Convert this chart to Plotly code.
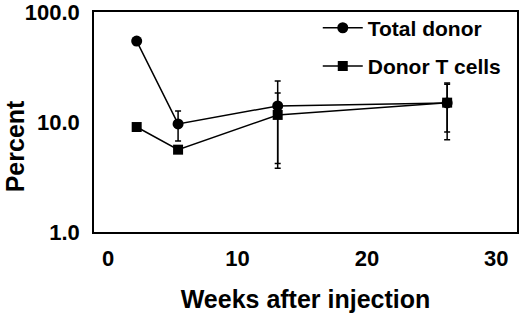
import plotly.graph_objects as go

weeks = [2.2, 5.4, 13.1, 26.2]
total_donor = [54.5, 9.6, 14.0, 14.9]
total_err_plus = [4.0, 3.0, 9.6, 7.7]
total_err_minus = [4.0, 2.9, 10.2, 6.8]
tcell = [9.0, 5.6, 11.6, 15.0]
tcell_err_plus = [0.0, 0.0, 6.8, 7.0]
tcell_err_minus = [0.0, 0.0, 7.4, 8.1]

y_ticks = [1, 10, 100]
y_ticktext = ["1.0", "10.0", "100.0"]
x_ticks = [0, 10, 20, 30]

font = "Liberation Sans, Arial, sans-serif"

fig = go.Figure()
fig.add_trace(go.Scatter(
    x=weeks, y=total_donor, name="Total donor", mode="lines+markers",
    legendgroup="a",
    line=dict(color="black", width=1.5),
    marker=dict(symbol="circle", size=11, color="black"),
    error_y=dict(type="data", array=total_err_plus, arrayminus=total_err_minus,
                 symmetric=False, color="black", thickness=1.5, width=3),
))
fig.add_trace(go.Scatter(
    x=weeks, y=tcell, name="Donor T cells", mode="lines+markers",
    legendgroup="b",
    line=dict(color="black", width=1.5),
    marker=dict(symbol="square", size=10, color="black"),
    error_y=dict(type="data", array=tcell_err_plus, arrayminus=tcell_err_minus,
                 symmetric=False, color="black", thickness=1.5, width=3),
))

fig.add_annotation(
    text="Percent", xref="paper", yref="paper", x=-0.186, y=0.391,
    xanchor="center", yanchor="middle", textangle=-90, showarrow=False,
    borderpad=0,
    font=dict(size=25, family=font, weight="bold", color="black"),
)

fig.update_layout(
    width=520, height=313,
    margin=dict(l=94, r=3, t=12, b=81, autoexpand=False),
    paper_bgcolor="white", plot_bgcolor="white",
    font=dict(family=font, color="black"),
    showlegend=True,
    legend=dict(x=0.529, y=1.02, xanchor="left", yanchor="top",
                bgcolor="rgba(0,0,0,0)", font=dict(size=21, family=font, weight="bold"),
                traceorder="grouped", tracegroupgap=8, itemwidth=40),
    xaxis=dict(range=[-1.1, 31.6], tickvals=x_ticks, showgrid=False, zeroline=False,
               automargin=False, ticklabeloverflow="allow",
               showline=True, linecolor="black", linewidth=1.5, mirror=True,
               ticks="outside", ticklen=6, tickcolor="rgba(0,0,0,0)",
               tickfont=dict(size=22, family=font, weight="bold"),
               title=dict(text="Weeks after injection", standoff=20,
                          font=dict(size=25, family=font, weight="bold"))),
    yaxis=dict(type="log", range=[-0.001, 2.001], tickvals=y_ticks, ticktext=y_ticktext,
               showgrid=False, zeroline=False, automargin=False, ticklabeloverflow="allow",
               showline=True, linecolor="black", linewidth=1.5, mirror=True,
               ticks="outside", ticklen=8, tickcolor="rgba(0,0,0,0)",
               tickfont=dict(size=22, family=font, weight="bold")),
)

fig.write_html("out.html", config={"displayModeBar": False},
               post_script="document.body.style.margin='0';")
